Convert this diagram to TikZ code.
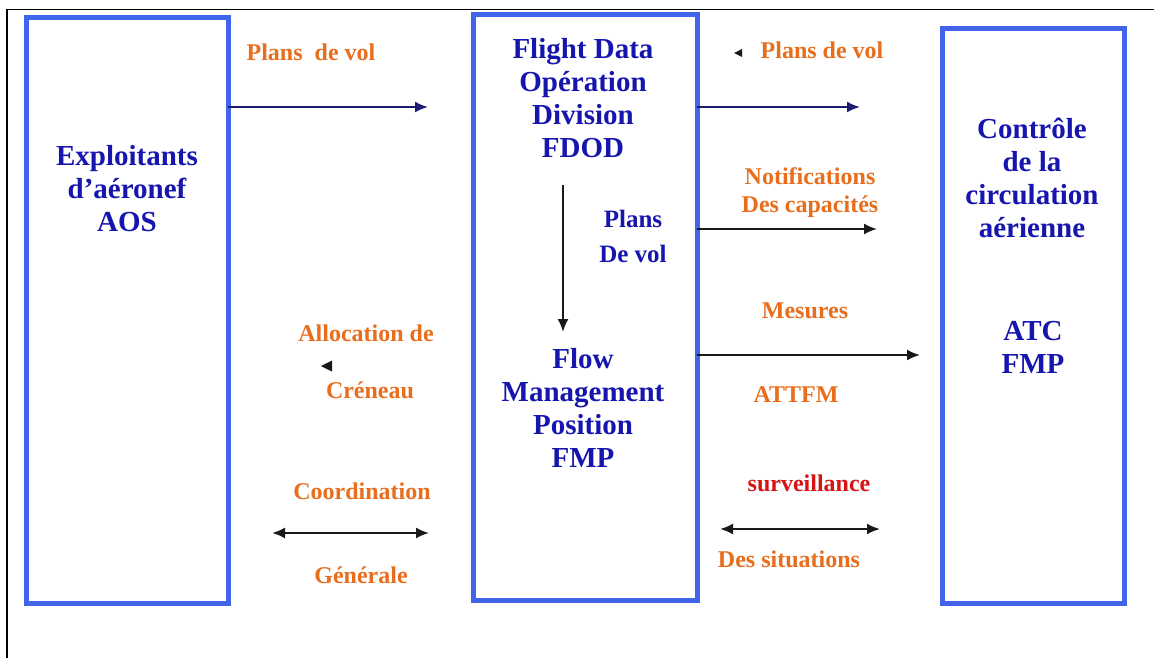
\documentclass[tikz,border=0pt]{standalone}
\usepackage{fontspec}
\setmainfont{Liberation Serif}
\usetikzlibrary{arrows.meta}
\definecolor{boxblue}{RGB}{66,100,232}
\definecolor{txtblue}{RGB}{22,22,175}
\definecolor{lblorange}{RGB}{232,110,30}
\definecolor{lblred}{RGB}{215,20,20}
\definecolor{navy}{RGB}{28,28,112}
\definecolor{arrblack}{RGB}{25,25,25}
\begin{document}
\begin{tikzpicture}[x=1pt,y=-1pt,
  box/.style={draw=boxblue,line width=5pt,inner sep=0pt,outer sep=0pt},
  btext/.style={text=txtblue,font=\fontsize{29}{33}\selectfont\bfseries,align=center,inner sep=0pt},
  stext/.style={text=txtblue,font=\fontsize{25}{35}\selectfont\bfseries,align=center,inner sep=0pt},
  otext/.style={text=lblorange,font=\fontsize{24}{28}\selectfont\bfseries,align=center,inner sep=0pt},
  rtext/.style={text=lblred,font=\fontsize{24}{28}\selectfont\bfseries,align=center,inner sep=0pt},
  conn/.style={line width=2pt,-{Latex[length=13pt,width=11pt]}},
  dconn/.style={line width=2pt,{Latex[length=13pt,width=11pt]}-{Latex[length=13pt,width=11pt]}},
  tri/.style={fill=arrblack}]
\useasboundingbox (0,0) rectangle (1154,658);
\fill[white] (0,0) rectangle (1154,658);
% frame
\draw[line width=1.5pt] (7,658) -- (7,9.5) -- (1154,9.5);
% boxes
\node[box,minimum width=202pt,minimum height=585pt] (lb) at (127,310.5) {};
\node[box,minimum width=224pt,minimum height=585pt] (mb) at (585,307.5) {};
\node[box,minimum width=182pt,minimum height=574pt] (rb) at (1033,316) {};
% box texts
\node[btext] (t1) at (127,189) {Exploitants\\d’aéronef\\AOS};
\node[btext] (t2) at (583,98) {Flight Data\\Opération\\Division\\FDOD};
\node[btext] (t3) at (583,408) {Flow\\Management\\Position\\FMP};
\node[btext] (t4) at (1032,178) {Contrôle\\de la\\circulation\\aérienne};
\node[btext] (t5) at (1033,347) {ATC\\FMP};
\node[stext] (t6) at (633,236) {Plans\\De vol};
% labels
\node[otext] (l1) at (311,52) {Plans\ \ de vol};
\node[otext] (l2) at (822,50) {Plans de vol};
\node[otext] (l3) at (810,193) {Notifications\\Des capacités};
\node[otext] (l4) at (805,311) {Mesures};
\node[otext] (l5) at (796,395) {ATTFM};
\node[rtext] (l6) at (809,483) {surveillance};
\node[otext] (l7) at (789,559) {Des situations};
\node[otext] (l8) at (366,333) {Allocation de};
\node[otext] (l9) at (370,390) {Créneau};
\node[otext] (l10) at (362,491) {Coordination};
\node[otext] (l11) at (361,575) {Générale};
% small stray triangles
\coordinate (s1) at (738,53);
\coordinate (s2) at (327,366);
\fill[tri] (s1) ++(-4,0) -- ++(8,-4) -- ++(0,8) -- cycle;
\fill[tri] (s2) ++(-6,0) -- ++(11,-5.5) -- ++(0,11) -- cycle;
% arrow end points
\coordinate (e1) at (428,107);
\coordinate (e2) at (860,107);
\coordinate (e3) at (877,229);
\coordinate (e4s) at (563,185);
\coordinate (e4) at (563,332);
\coordinate (e5) at (920,355);
\coordinate (e6a) at (272,533);
\coordinate (e6b) at (429,533);
\coordinate (e7a) at (720,529);
\coordinate (e7b) at (880,529);
% connectors
\draw[conn,navy] (lb.east |- e1) -- (e1);
\draw[conn,navy] (mb.east |- e2) -- (e2);
\draw[conn,arrblack] (mb.east |- e3) -- (e3);
\draw[conn,arrblack] (e4s) -- (e4);
\draw[conn,arrblack] (mb.east |- e5) -- (e5);
\draw[dconn,arrblack] (e6a) -- (e6b);
\draw[dconn,arrblack] (e7a) -- (e7b);
\end{tikzpicture}
\end{document}
